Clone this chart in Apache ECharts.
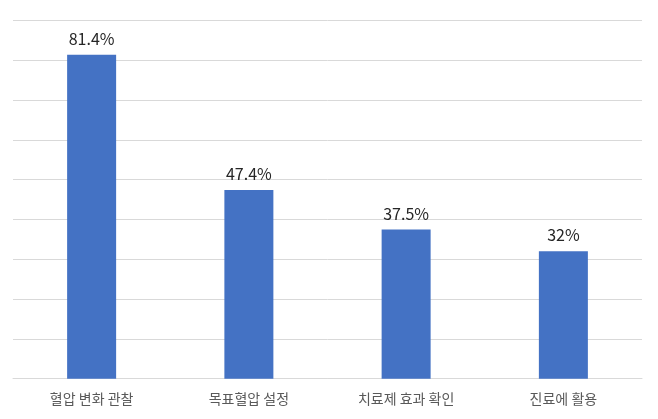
<!DOCTYPE html>
<html>
<head>
<meta charset="utf-8">
<script src="https://cdn.jsdelivr.net/npm/echarts@6/dist/echarts.min.js"></script>
<style>html,body{margin:0;padding:0;background:#fff}#c{width:658px;height:419px}</style>
</head>
<body>
<div id="c"></div>
<script>
const categories = ['혈압 변화 관찰', '목표혈압 설정', '치료제 효과 확인', '진료에 활용'];
const values = [81.4, 47.4, 37.5, 32];
const labels = ['81.4%', '47.4%', '37.5%', '32%'];

const chart = echarts.init(document.getElementById('c'), null, {renderer: 'canvas'});
chart.setOption({
  animation: false,
  backgroundColor: '#ffffff',
  grid: {left: 13, right: 16, top: 20.5, bottom: 40.3, containLabel: false},
  xAxis: {
    type: 'category',
    data: categories,
    axisLine: {show: true, lineStyle: {color: '#d9d9d9', width: 1}},
    axisTick: {show: false},
    axisLabel: {
      color: '#595959',
      fontSize: 14,
      fontFamily: 'Noto Sans CJK KR',
      margin: 13
    }
  },
  yAxis: {
    type: 'value',
    min: 0,
    max: 90,
    interval: 10,
    axisLabel: {show: false},
    axisLine: {show: false},
    axisTick: {show: false},
    splitLine: {show: true, lineStyle: {color: '#d9d9d9', width: 1}}
  },
  series: [{
    type: 'bar',
    data: values,
    barWidth: 49,
    itemStyle: {color: '#4472C4'},
    label: {
      show: true,
      position: 'top',
      distance: 8,
      color: '#262626',
      fontSize: 16,
      fontFamily: 'Noto Sans CJK KR',
      formatter: p => labels[p.dataIndex]
    }
  }]
});
</script>
</body>
</html>
